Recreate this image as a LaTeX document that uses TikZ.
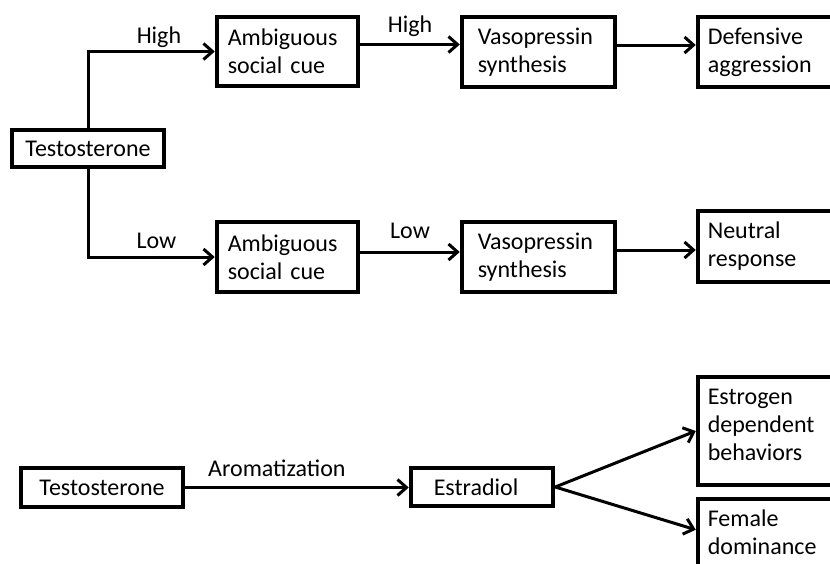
\documentclass[tikz,border=0pt]{standalone}
\usepackage{fontspec}
\setmainfont{Carlito}
\usetikzlibrary{arrows.meta,calc}
\begin{document}
\begin{tikzpicture}[x=1pt,y=-1pt,
  box/.style={draw, line width=4pt, inner sep=0pt, anchor=north west, align=left,
    font=\fontsize{24}{28}\selectfont},
  conn/.style={line width=3pt, -{Straight Barb[length=9pt,width=16pt]}},
  lbl/.style={font=\fontsize{24}{28}\selectfont, inner sep=0pt, anchor=base}]
\useasboundingbox (0,0) rectangle (830,563);
\fill[white] (0,0) rectangle (830,563);
\clip (0,0) rectangle (830,563);

% upper pathway
\node[box, align=center, minimum width=152.5pt, minimum height=37.5pt] (t1) at (9.75,127.75) {Testosterone};
\node[box, minimum width=141.5pt, minimum height=69.5pt, text width=119.5pt] (a1) at (214.75,14.75) {Ambiguous\\social cue};
\node[box, minimum width=153.5pt, minimum height=70.5pt, text width=121.5pt] (v1) at (459.75,14.75) {Vasopressin\\synthesis};
\node[box, minimum width=180pt, minimum height=70.5pt, text width=160pt] (d1) at (695.75,14.75) {Defensive\\aggression};
\node[box, minimum width=141.5pt, minimum height=70.5pt, text width=119.5pt] (a2) at (214.75,219.75) {Ambiguous\\social cue};
\node[box, minimum width=153.5pt, minimum height=70.5pt, text width=121.5pt] (v2) at (459.75,219.75) {Vasopressin\\synthesis};
\node[box, minimum width=180pt, minimum height=71.5pt, text width=160pt] (n2) at (695.75,208.75) {Neutral\\response};

\draw[conn] (t1.north) |- (a1.west) node[lbl, pos=0.78, yshift=8.5pt] {High};
\draw[conn] (t1.south) |- (a2.west) node[lbl, pos=0.77, yshift=9pt] {Low};
\draw[conn] ([yshift=7pt]a1.east) -- ([yshift=7pt]a1.east -| v1.west) node[lbl, midway, yshift=12pt] {High};
\draw[conn] ([yshift=7pt]v1.east) -- ([yshift=7pt]v1.east -| d1.west);
\draw[conn] ([yshift=5pt]a2.east) -- ([yshift=5pt]a2.east -| v2.west) node[lbl, midway, yshift=14pt] {Low};
\draw[conn] ([yshift=7pt]v2.east) -- ([yshift=7pt]v2.east -| n2.west);

% lower pathway
\node[box, align=center, minimum width=162.5pt, minimum height=39.5pt] (t2) at (18.75,465.75) {Testosterone};
\node[box, minimum width=142.5pt, minimum height=38.5pt, text width=96.5pt] (e) at (408.75,465.75) {Estradiol};
\node[box, inner xsep=10pt, inner ysep=12pt] (edb) at (695.75,374.75)
  {\parbox[c][84.5pt][t]{160pt}{Estrogen\\dependent\\behaviors}};
\node[box, inner xsep=10pt, inner ysep=11pt] (fd) at (695.75,496.75)
  {\parbox[c][100pt][t]{160pt}{Female\\dominance}};

\draw[conn] (t2.east) -- (t2.east -| e.west) node[lbl, pos=0.41, yshift=11pt] {Aromatization};
\draw[conn] (e.east) -- (edb.west);
\draw[conn] (e.east) -- ([yshift=-33pt]fd.north west);
\end{tikzpicture}
\end{document}
